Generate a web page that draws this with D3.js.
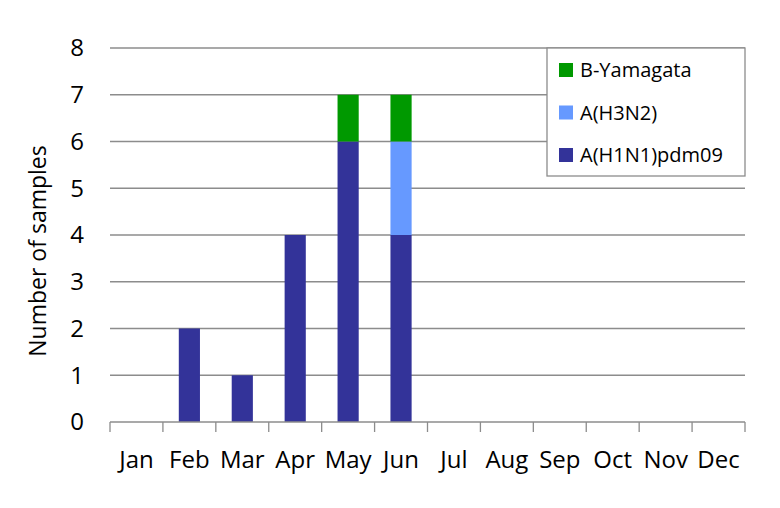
<!DOCTYPE html>
<html>
<head>
<meta charset="utf-8">
<script src="https://cdn.jsdelivr.net/npm/d3@7"></script>
<style>
  body { margin: 0; background: #fff; }
  text { font-family: "Open Sans", sans-serif; fill: #000; }
</style>
</head>
<body>
<div id="chart"></div>
<script>
// Chart data
var months = ["Jan", "Feb", "Mar", "Apr", "May", "Jun", "Jul", "Aug", "Sep", "Oct", "Nov", "Dec"];
var seriesNames = ["A(H1N1)pdm09", "A(H3N2)", "B-Yamagata"];
var h1n1 = [0, 2, 1, 4, 6, 4, 0, 0, 0, 0, 0, 0];
var h3n2 = [0, 0, 0, 0, 0, 2, 0, 0, 0, 0, 0, 0];
var bYamagata = [0, 0, 0, 0, 1, 1, 0, 0, 0, 0, 0, 0];
var yTicks = [0, 1, 2, 3, 4, 5, 6, 7, 8];

var colors = { "A(H1N1)pdm09": "#333399", "A(H3N2)": "#6699FF", "B-Yamagata": "#009900" };

var width = 780, height = 508;
var margin = { top: 48, right: 35, bottom: 86, left: 110 };
var innerW = width - margin.left - margin.right;
var innerH = height - margin.top - margin.bottom;

var svg = d3.select("#chart").append("svg")
    .attr("width", width)
    .attr("height", height);

var g = svg.append("g")
    .attr("transform", "translate(" + margin.left + "," + margin.top + ")");

var table = months.map(function(m, i) {
    return { month: m, "A(H1N1)pdm09": h1n1[i], "A(H3N2)": h3n2[i], "B-Yamagata": bYamagata[i] };
});

var stack = d3.stack().keys(seriesNames);
var layers = stack(table);

var x = d3.scaleBand()
    .domain(months)
    .range([0, innerW])
    .paddingInner(0.6)
    .paddingOuter(0.3);

var y = d3.scaleLinear()
    .domain([0, 8])
    .range([innerH, 0]);

// Gridlines
g.append("g")
    .selectAll("line")
    .data(yTicks.filter(function(d) { return d > 0; }))
    .enter()
    .append("line")
        .attr("x1", 0)
        .attr("x2", innerW)
        .attr("y1", function(d) { return y(d); })
        .attr("y2", function(d) { return y(d); })
        .attr("stroke", "#8c8c8c")
        .attr("stroke-width", 1.3);

// Y labels
g.append("g")
    .selectAll("text")
    .data(yTicks)
    .enter()
    .append("text")
        .attr("x", -26)
        .attr("y", function(d) { return y(d); })
        .attr("dy", "0.35em")
        .attr("text-anchor", "end")
        .style("font-size", "24px")
        .text(function(d) { return d; });

// Bars
g.selectAll(".layer")
    .data(layers)
    .enter()
    .append("g")
        .attr("class", "layer")
        .attr("fill", function(d) { return colors[d.key]; })
    .selectAll("rect")
    .data(function(d) { return d; })
    .enter()
    .append("rect")
        .attr("x", function(d) { return x(d.data.month); })
        .attr("y", function(d) { return y(d[1]); })
        .attr("width", x.bandwidth())
        .attr("height", function(d) { return y(d[0]) - y(d[1]); });

// X axis
var band = innerW / months.length;
var xAxis = g.append("g")
    .attr("transform", "translate(0," + innerH + ")");
xAxis.append("line")
    .attr("x1", 0).attr("x2", innerW)
    .attr("stroke", "#8c8c8c").attr("stroke-width", 1.3);
xAxis.selectAll(".tick")
    .data(d3.range(months.length + 1))
    .enter()
    .append("line")
        .attr("x1", function(d) { return d * band; })
        .attr("x2", function(d) { return d * band; })
        .attr("y1", 0).attr("y2", 10)
        .attr("stroke", "#8c8c8c").attr("stroke-width", 1.3);
xAxis.selectAll("text")
    .data(months)
    .enter()
    .append("text")
        .attr("x", function(d) { return x(d) + x.bandwidth() / 2; })
        .attr("y", 46)
        .attr("text-anchor", "middle")
        .style("font-size", "24px")
        .text(function(d) { return d; });

// Y title
svg.append("text")
    .attr("transform", "translate(46,251) rotate(-90)")
    .attr("text-anchor", "middle")
    .style("font-size", "23px")
    .text("Number of samples");

// Legend
var legend = svg.append("g")
    .attr("transform", "translate(547,48)");
legend.append("rect")
    .attr("width", 198).attr("height", 128)
    .attr("fill", "#fff")
    .attr("stroke", "#8c8c8c").attr("stroke-width", 1.3);
var items = legend.selectAll(".item")
    .data(seriesNames.slice().reverse())
    .enter()
    .append("g")
        .attr("transform", function(d, i) { return "translate(12," + (22 + i * 42.5) + ")"; });
items.append("rect")
    .attr("y", -7).attr("width", 14).attr("height", 14)
    .attr("fill", function(d) { return colors[d]; });
items.append("text")
    .attr("x", 21)
    .attr("dy", "0.35em")
    .style("font-size", "20px")
    .text(function(d) { return d; });
</script>
</body>
</html>
